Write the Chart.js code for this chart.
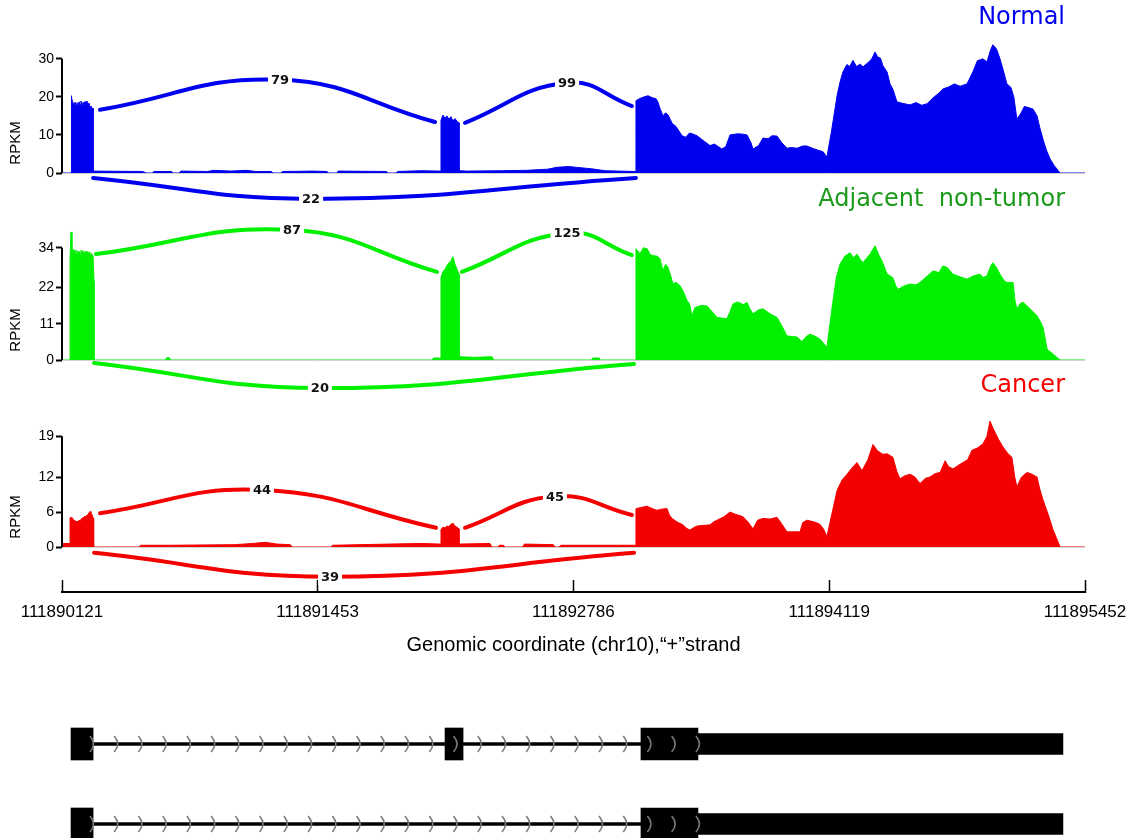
<!DOCTYPE html>
<html>
<head>
<meta charset="utf-8">
<title>Sashimi plot chr10</title>
<script src="https://cdn.jsdelivr.net/npm/chart.js@4.4.0/dist/chart.umd.min.js"></script>
<style>
html, body { margin: 0; padding: 0; background: #fff; overflow: hidden; }
#wrap { position: relative; width: 1130px; height: 838px; overflow: hidden; }
canvas { position: absolute; }
</style>
</head>
<body>
<div id="wrap">
  <canvas id="axis" width="1170" height="190" style="left:-20px;top:480px"></canvas>
  <canvas id="normal" width="1130" height="215" style="left:0;top:0"></canvas>
  <canvas id="adjacent" width="1130" height="235" style="left:0;top:175px"></canvas>
  <canvas id="cancer" width="1130" height="235" style="left:0;top:360px"></canvas>
  <canvas id="genes" width="1130" height="174" style="left:0;top:690px"></canvas>
</div>
<script>
// --- x axis: genomic coordinate, stored as offsets from the first tick ---
const START = 111890121;
const SPAN = 5331;
const tickOffsets = [0, 1332, 2665, 3998, 5331];
const tickLabels = ['111890121', '111891453', '111892786', '111894119', '111895452'];

// --- y ticks per panel (RPKM) ---
const normalTicks = [0, 10, 20, 30];
const adjacentTicks = [0, 11, 22, 34];
const cancerTicks = [0, 6, 12, 19];

// --- coverage: [offset, RPKM] ---
const normalCoverage = [
  [0,0],[47,0],[47,20.3],[52,19.8],[57,18.4],[63,18.2],[68,18.6],[73,17.8],[78,18.5],[83,17.6],[89,18.7],[94,17.9],[99,18.9],[104,17.5],[110,18.6],[115,17.9],[120,18.8],[125,17.6],[130,18.9],[135,17.8],[141,18.4],[146,17.3],[151,17.6],[156,17.0],[162,17.0],[162,0.5],
  [420,0.4],[440,0],[470,0],[480,0.4],[570,0.4],[580,0],[610,0],[620,0.5],[760,0.4],[790,0.7],[880,0.5],[960,0.7],[1010,0.4],[1090,0.4],[1100,0],[1140,0],[1150,0.4],[1310,0.5],[1380,0.4],[1390,0],[1430,0],[1440,0.5],[1690,0.4],[1700,0],[1740,0],[1750,0.4],[1870,0.6],[1970,0.5],
  [1975,13.8],[1985,15.2],[1996,14.4],[2006,15.0],[2016,14.1],[2027,14.8],[2037,13.7],[2048,14.3],[2058,13.6],[2069,13.2],[2069,0.6],
  [2110,0.5],[2290,0.6],[2420,0.7],[2530,1.0],[2580,1.5],[2640,1.7],[2700,1.4],[2760,1.1],[2830,0.6],[2900,0.5],[2986,0.4],
  [2991,19.0],[3012,19.6],[3033,20.0],[3054,20.3],[3075,19.8],[3096,19.5],[3106,18.6],[3116,17.0],[3132,15.0],[3145,15.8],[3158,15.3],[3180,13.0],[3200,12.2],[3231,9.8],[3250,9.4],[3270,10.5],[3290,10.2],[3309,9.8],[3340,8.6],[3377,7.2],[3400,7.6],[3439,6.3],[3460,7.0],[3481,10.0],[3520,10.3],[3550,10.2],[3570,10.0],[3590,8.0],[3601,6.3],[3630,7.2],[3653,9.2],[3680,9.0],[3700,9.8],[3726,9.7],[3750,8.0],[3778,6.5],[3800,6.7],[3830,6.5],[3860,7.1],[3882,7.1],[3910,6.5],[3940,6.0],[3966,5.6],[3986,4.2],
  [4010,11.0],[4039,20.3],[4055,24.0],[4070,26.6],[4090,28.5],[4105,28.0],[4122,29.6],[4140,28.0],[4160,28.6],[4174,27.9],[4200,29.0],[4220,30.0],[4237,31.8],[4250,30.5],[4265,30.2],[4278,28.2],[4300,26.5],[4315,23.4],[4330,22.0],[4351,18.7],[4380,18.3],[4419,17.9],[4450,18.5],[4480,17.8],[4508,18.2],[4540,19.8],[4570,21.0],[4591,22.1],[4620,22.6],[4650,23.4],[4680,22.8],[4716,23.4],[4747,26.6],[4770,29.5],[4799,30.0],[4820,29.2],[4840,32.5],[4851,33.7],[4870,32.6],[4888,30.0],[4905,27.0],[4924,23.4],[4945,22.5],[4960,20.0],[4976,14.2],[4995,15.5],[5015,17.5],[5035,17.2],[5060,16.8],[5081,15.0],[5095,12.0],[5112,8.9],[5130,6.0],[5149,3.7],[5170,2.0],[5201,0],[5331,0]
];

const adjacentCoverage = [
  [0,0],[42,0],[42,30.5],[47,38.8],[52,33.0],[57,33.6],[63,32.3],[68,33.4],[73,32.1],[78,33.2],[83,31.9],[89,33.0],[94,32.2],[99,33.3],[104,32.0],[110,33.1],[115,31.8],[120,32.9],[125,32.2],[130,33.0],[135,32.0],[141,32.8],[146,31.7],[151,32.5],[156,32.0],[162,31.5],[167,24.0],[167,0],
  [540,0],[545,0.7],[560,0.7],[565,0],[1930,0],[1935,0.6],[1970,0.6],
  [1975,25.0],[1985,26.8],[1996,27.5],[2006,28.6],[2016,29.4],[2027,30.1],[2037,31.3],[2043,30.2],[2048,29.0],[2058,27.6],[2069,26.0],[2069,1.0],[2150,0.8],[2240,1.0],[2250,0],[2760,0],[2765,0.6],[2800,0.6],[2805,0],[2986,0],
  [2991,33.7],[3012,32.2],[3030,34.0],[3049,33.7],[3065,32.0],[3080,31.6],[3100,31.5],[3116,30.7],[3132,27.1],[3145,29.0],[3158,28.1],[3172,25.5],[3184,23.1],[3200,23.5],[3221,22.5],[3240,20.5],[3257,18.0],[3270,17.0],[3283,13.5],[3299,15.9],[3330,16.5],[3361,16.4],[3390,14.5],[3413,12.9],[3440,12.7],[3465,12.5],[3480,14.5],[3497,17.0],[3520,17.6],[3550,16.8],[3570,17.4],[3585,15.5],[3601,14.0],[3630,15.2],[3653,15.5],[3690,14.0],[3726,12.9],[3750,10.5],[3778,7.3],[3805,7.1],[3830,7.0],[3856,5.6],[3880,7.2],[3898,7.8],[3925,7.2],[3950,6.3],[3970,5.0],[3986,3.8],
  [4018,18.0],[4035,25.0],[4054,29.0],[4080,31.5],[4106,32.5],[4125,31.0],[4143,32.1],[4160,30.5],[4174,29.5],[4195,31.0],[4211,32.1],[4225,33.5],[4237,34.6],[4255,32.0],[4273,30.0],[4290,27.5],[4299,26.1],[4330,24.9],[4345,22.5],[4356,21.4],[4390,22.5],[4419,23.0],[4450,22.8],[4471,23.5],[4510,25.5],[4539,27.0],[4570,26.5],[4590,28.5],[4612,28.1],[4643,26.0],[4680,25.2],[4716,24.5],[4750,25.5],[4784,26.0],[4800,25.0],[4820,25.5],[4840,28.5],[4851,29.5],[4870,28.0],[4888,26.0],[4910,24.0],[4924,23.5],[4956,23.5],[4966,18.0],[4976,15.5],[4995,17.2],[5008,17.5],[5040,15.8],[5081,13.4],[5100,11.5],[5112,9.9],[5125,6.0],[5133,3.3],[5164,1.8],[5201,0],[5331,0]
];

const cancerCoverage = [
  [0,0.6],[42,0.6],[42,5.0],[47,5.1],[52,4.9],[57,4.8],[63,4.6],[68,4.5],[73,4.4],[78,4.3],[83,4.4],[89,4.6],[94,4.5],[99,4.8],[104,4.9],[110,5.0],[115,5.2],[120,5.3],[125,5.1],[130,5.5],[135,5.5],[141,5.9],[146,6.1],[151,5.8],[156,5.6],[162,5.0],[165,0],
  [400,0],[410,0.3],[560,0.3],[900,0.4],[990,0.6],[1060,0.8],[1120,0.5],[1190,0.4],[1200,0],[1400,0],[1410,0.3],[1700,0.5],[1880,0.6],[1970,0.5],
  [1975,3.0],[1985,3.4],[1996,3.3],[2006,3.6],[2016,3.5],[2027,3.9],[2037,4.1],[2048,3.6],[2058,3.4],[2069,3.1],[2069,0.5],
  [2230,0.6],[2240,0],[2270,0],[2280,0.3],[2300,0.3],[2310,0],[2400,0],[2410,0.5],[2560,0.4],[2570,0],[2590,0],[2600,0.3],[2960,0.3],[2986,0.3],
  [2991,6.6],[3020,6.8],[3049,7.0],[3075,6.6],[3101,6.3],[3125,6.5],[3153,6.6],[3165,5.5],[3179,4.9],[3205,4.3],[3236,3.8],[3255,3.2],[3273,2.9],[3290,3.3],[3309,3.6],[3340,3.7],[3377,3.8],[3395,4.3],[3413,4.6],[3450,5.2],[3481,6.0],[3510,5.6],[3549,5.2],[3575,4.3],[3601,3.1],[3625,4.6],[3653,4.9],[3690,4.8],[3726,5.1],[3750,4.0],[3778,2.6],[3846,2.6],[3860,4.2],[3882,4.6],[3920,4.3],[3950,3.9],[3970,3.0],[3986,1.8],
  [4039,9.7],[4065,11.5],[4091,12.5],[4115,13.5],[4143,14.5],[4169,13.1],[4200,15.0],[4226,17.6],[4250,16.5],[4278,15.9],[4300,16.0],[4330,15.4],[4350,13.0],[4367,11.7],[4390,12.2],[4419,12.5],[4445,12.0],[4471,10.9],[4500,11.8],[4523,12.0],[4550,12.6],[4576,12.8],[4602,14.8],[4620,13.8],[4643,13.4],[4670,14.0],[4695,14.5],[4720,15.0],[4742,16.6],[4770,17.0],[4799,17.7],[4820,19.0],[4836,21.6],[4850,20.5],[4862,19.7],[4880,18.5],[4903,17.2],[4930,16.0],[4950,15.4],[4965,12.0],[4976,10.3],[5000,12.0],[5029,12.8],[5055,12.5],[5081,12.0],[5095,10.0],[5112,8.1],[5140,5.5],[5164,3.0],[5201,0],[5331,0]
];

// --- splice junctions: read count, arc start / apex / end as [offset, height] ---
const normalJunctions = [
  { count: 79, path: [[198, 16.6], [1136, 24.5], [1944, 13.4]] },
  { count: 99, path: [[2100, 13.2], [2632, 23.7], [2970, 17.6]] },
  { count: 22, path: [[162, -1.3], [1298, -6.8], [2991, -1.3]] }
];
const adjacentJunctions = [
  { count: 87, path: [[177, 32.1], [1199, 39.4], [1954, 26.7]] },
  { count: 125, path: [[2084, 26.7], [2632, 38.5], [2970, 31.8]] },
  { count: 20, path: [[167, -0.9], [1344, -8.5], [2981, -1.2]] }
];
const cancerJunctions = [
  { count: 44, path: [[198, 5.8], [1042, 9.8], [1949, 3.3]] },
  { count: 45, path: [[2100, 3.3], [2569, 8.7], [2970, 5.5]] },
  { count: 39, path: [[167, -1.0], [1397, -5.1], [2981, -1.0]] }
];

// --- gene model (offsets) ---
const transcripts = ['isoform 1', 'isoform 2'];
const intronSpan = [162, 3017];
const exon1 = [47, 162];
const exon2 = [1996, 2090];
const exon3Cds = [3017, 3314];
const exon3Utr = [3314, 5216];

Chart.defaults.font.family = '"Liberation Sans", Arial, sans-serif';
Chart.defaults.color = '#000';

// panel name (top right) + RPKM label
const panelText = {
  id: 'panelText',
  afterDraw(chart, args, opts) {
    const c = chart.ctx;
    c.save();
    c.font = '24px "DejaVu Sans"';
    c.fillStyle = opts.color;
    c.textAlign = 'right';
    c.textBaseline = 'middle';
    c.fillText(opts.name, 1065, opts.nameY);
    c.translate(16, chart.chartArea.bottom - 30);
    c.rotate(-Math.PI / 2);
    c.font = '15px "Liberation Sans"';
    c.fillStyle = '#000';
    c.textAlign = 'center';
    c.fillText('RPKM', 0, 0);
    c.restore();
  }
};

// junction counts on the arc apex
const arcLabels = {
  id: 'arcLabels',
  afterDatasetsDraw(chart) {
    const c = chart.ctx;
    c.save();
    c.font = 'bold 13px "DejaVu Sans"';
    c.textAlign = 'center';
    c.textBaseline = 'middle';
    chart.data.datasets.forEach((ds, i) => {
      if (ds.junctionCount === undefined) return;
      const p = chart.getDatasetMeta(i).data[1];
      const txt = String(ds.junctionCount);
      const w = c.measureText(txt).width + 6;
      c.fillStyle = '#fff';
      c.fillRect(p.x - w / 2, p.y - 8, w, 16);
      c.fillStyle = '#111';
      c.fillText(txt, p.x, p.y + 1);
    });
    c.restore();
  }
};

function sashimiPanel(id, coverage, junctions, ticks, yMax, color, name, nameColor, nameY, pad) {
  const datasets = [
    {
      data: [{ x: 0, y: 0 }, { x: 0, y: ticks[ticks.length - 1] }],
      borderColor: '#000', borderWidth: 2, pointRadius: 0, clip: false, order: 0
    },
    ...junctions.map(j => ({
      junctionCount: j.count,
      data: j.path.map(([x, y]) => ({ x, y })),
      borderColor: color, borderWidth: 4, tension: 0.45, capBezierPoints: false,
      borderCapStyle: 'round', pointRadius: 0, fill: false, clip: false, order: 1
    })),
    {
      data: coverage.map(([x, y]) => ({ x, y })),
      borderColor: color, backgroundColor: color, borderWidth: 1,
      fill: 'origin', pointRadius: 0, tension: 0, order: 2
    }
  ];

  return new Chart(document.getElementById(id), {
    type: 'line',
    data: { datasets },
    options: {
      responsive: false,
      animation: false,
      events: [],
      layout: { padding: { left: 0, right: 45, top: pad.top, bottom: pad.bottom } },
      plugins: {
        legend: { display: false },
        tooltip: { enabled: false },
        panelText: { name, color: nameColor, nameY }
      },
      scales: {
        x: { type: 'linear', min: 0, max: SPAN, display: false },
        y: {
          min: 0,
          max: yMax,
          afterBuildTicks: s => { s.ticks = ticks.map(v => ({ value: v })); },
          afterFit: s => { s.width = 62; },
          ticks: { font: { size: 14 }, color: '#000', padding: 2 },
          grid: {
            color: c => (c.tick && c.tick.value === 0 ? '#d2d2d2' : 'rgba(0,0,0,0)'),
            tickColor: '#000',
            tickLength: 6,
            tickWidth: 2,
            lineWidth: 1
          },
          border: { display: false }
        }
      }
    },
    plugins: [panelText, arcLabels]
  });
}

sashimiPanel('normal', normalCoverage, normalJunctions, normalTicks, 36, '#0000f0', 'Normal', '#0000f0', 18, { top: 36, bottom: 42 });
sashimiPanel('adjacent', adjacentCoverage, adjacentJunctions, adjacentTicks, 40, '#00f000', 'Adjacent  non-tumor', '#1c9a1c', 25, { top: 53, bottom: 50 });
sashimiPanel('cancer', cancerCoverage, cancerJunctions, cancerTicks, 23, '#f50000', 'Cancer', '#f50000', 26, { top: 53, bottom: 48 });

// --- shared genomic axis (ticks point up into the plot) ---
new Chart(document.getElementById('axis'), {
  type: 'line',
  data: { datasets: [] },
  options: {
    responsive: false,
    animation: false,
    events: [],
    layout: { padding: { left: 82, right: 65, top: 20, bottom: 7 } },
    plugins: { legend: { display: false }, tooltip: { enabled: false } },
    scales: {
      x: {
        type: 'linear',
        min: 0,
        max: SPAN,
        afterBuildTicks: s => { s.ticks = tickOffsets.map(v => ({ value: v })); },
        afterFit: s => { s.height = 71; },
        ticks: {
          callback: (v, i) => tickLabels[i],
          font: { size: 17 },
          color: '#000',
          padding: 22,
          maxRotation: 0,
          autoSkip: false
        },
        grid: { drawOnChartArea: false, drawTicks: true, tickLength: -12, tickColor: '#000', tickWidth: 1.5 },
        border: { display: true, color: '#000', width: 2 },
        title: {
          display: true,
          text: 'Genomic coordinate (chr10),\u201c+\u201dstrand',
          font: { size: 20 },
          color: '#000',
          padding: { top: 2, bottom: 6 }
        }
      },
      y: { display: false, min: 0, max: 1 }
    }
  }
});

// --- transcript structures ---
const strandArrows = {
  id: 'strandArrows',
  afterDatasetsDraw(chart) {
    const { ctx: c, scales: { x, y } } = chart;
    const first = intronSpan[0] - 6, last = exon3Utr[0], n = 25;
    c.save();
    c.strokeStyle = '#7a7a7a';
    c.lineWidth = 1.6;
    chart.data.labels.forEach((lab, i) => {
      const cy = y.getPixelForValue(i);
      for (let k = 0; k <= n; k++) {
        const cx = x.getPixelForValue(first + (last - first) * k / n);
        c.beginPath();
        c.moveTo(cx - 2, cy - 8);
        c.quadraticCurveTo(cx + 5, cy, cx - 2, cy + 8);
        c.stroke();
      }
    });
    c.restore();
  }
};

const geneBar = (data, thickness, order) => ({
  data, barThickness: thickness, backgroundColor: '#000', grouped: false, order
});

new Chart(document.getElementById('genes'), {
  type: 'bar',
  data: {
    labels: transcripts,
    datasets: [
      geneBar([exon1, exon1], 32, 0),
      geneBar([exon2, null], 32, 0),
      geneBar([exon3Cds, exon3Cds], 32, 0),
      geneBar([exon3Utr, exon3Utr], 21, 0),
      geneBar([intronSpan, intronSpan], 3, 1)
    ]
  },
  options: {
    indexAxis: 'y',
    responsive: false,
    animation: false,
    events: [],
    layout: { padding: { left: 62, right: 45, top: 14, bottom: 0 } },
    plugins: { legend: { display: false }, tooltip: { enabled: false } },
    scales: {
      x: { type: 'linear', min: 0, max: SPAN, display: false },
      y: { display: false }
    }
  },
  plugins: [strandArrows]
});
</script>
</body>
</html>
